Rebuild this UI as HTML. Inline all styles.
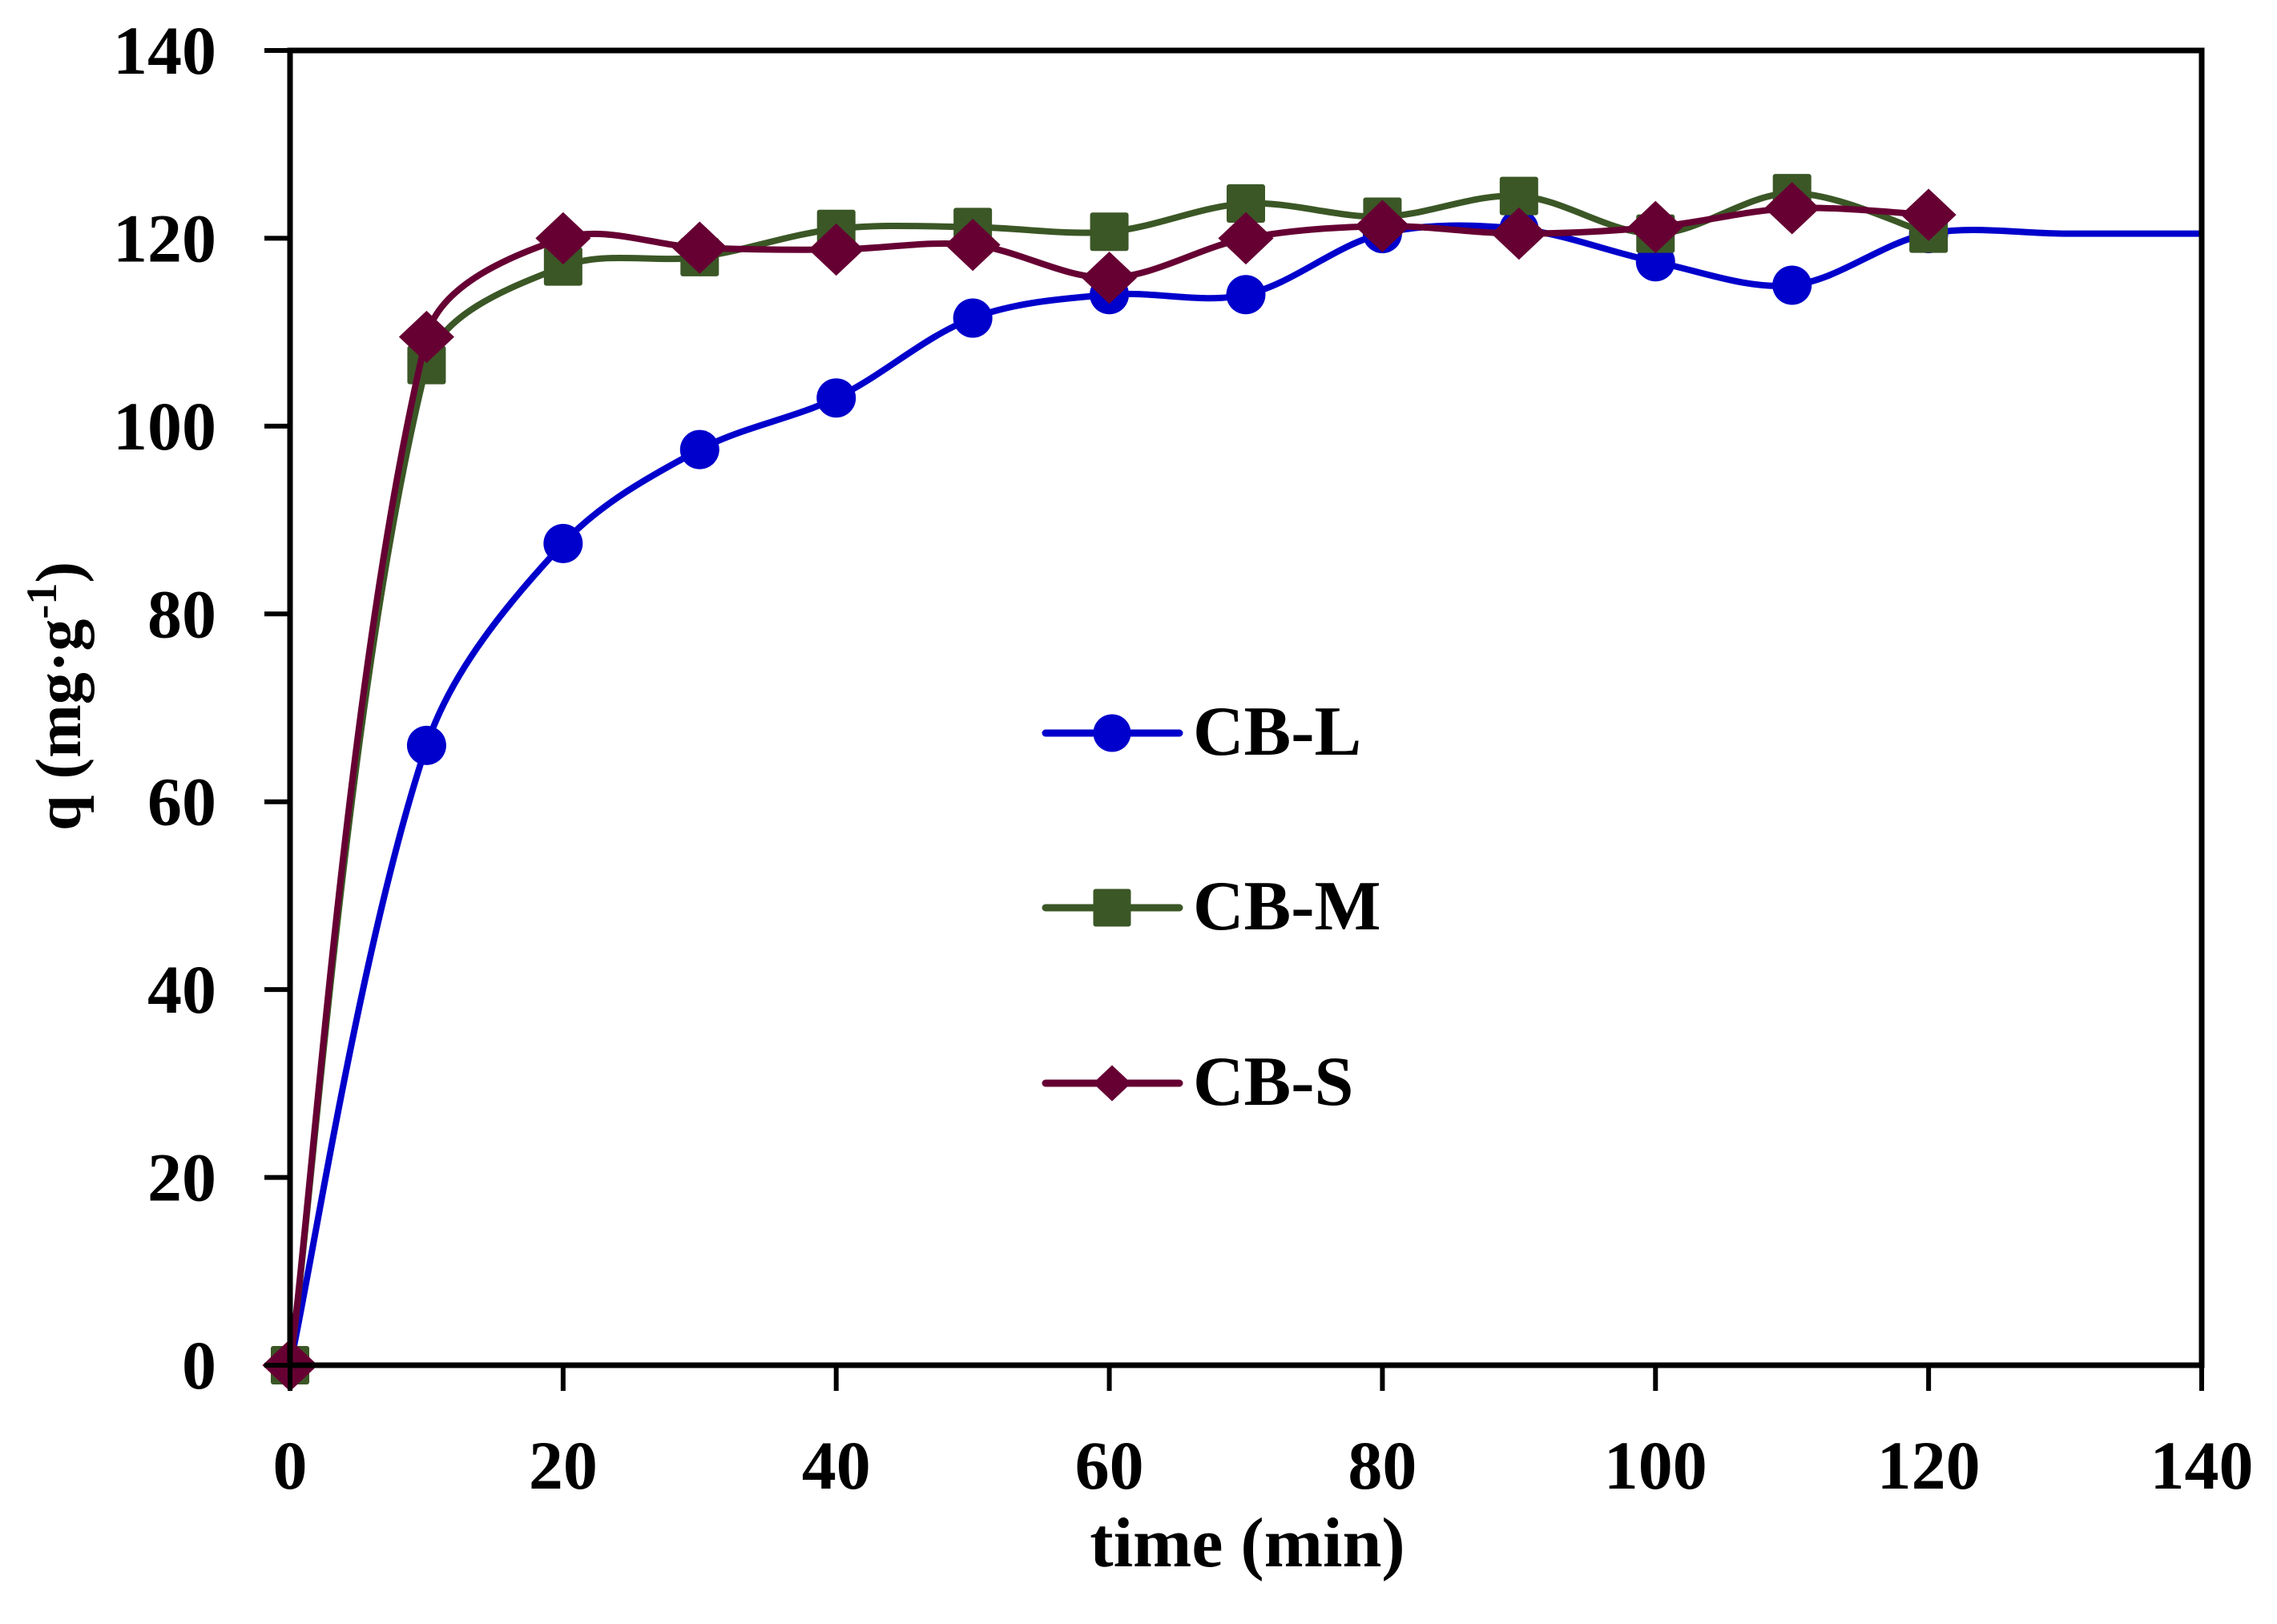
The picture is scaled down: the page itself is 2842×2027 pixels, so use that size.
<!DOCTYPE html>
<html><head><meta charset="utf-8"><style>
html,body{margin:0;padding:0;background:#fff;}
svg{display:block;}
text{font-family:"Liberation Serif",serif;font-weight:bold;fill:#000;}
</style></head><body>
<svg id="chart" width="2842" height="2027" viewBox="0 0 2842 2027" xmlns="http://www.w3.org/2000/svg">
<rect width="2842" height="2027" fill="#fff"/>
<g id="series-layer"></g>
<g id="axes-layer"></g>
<text x="1557" y="1955" font-size="88" text-anchor="middle">time (min)</text>
<text transform="translate(100,869) rotate(-90)" font-size="80" text-anchor="middle">q (mg·g<tspan dy="-30" font-size="54">-1</tspan><tspan dy="30">)</tspan></text>
<g id="legend"></g>
</svg>
<script>
const xTicks = [0,20,40,60,80,100,120,140];
const yTicks = [0,20,40,60,80,100,120,140];
const times = [0,10,20,30,40,50,60,70,80,90,100,110,120];
const tailTimes = [130,140];
const cbL = [0,66,87.5,97.5,103,111.5,114,114,120.5,121,117.5,115,120.5];
const cbLTail = [120.5,120.5];
const cbM = [0,106.5,117,118,121,121.2,120.7,123.7,122.3,124.5,120.5,124.8,120.5];
const cbS = [0,109.5,120,119,118.8,119.3,115.8,120,121.3,120.5,121.2,123.2,122.5];
const seriesNames = ["CB-L","CB-M","CB-S"];

const X0=362, X1=2748, Y0=1704, Y1=63;
const xs = v => X0 + (v-0)/(140-0)*(X1-X0);
const ys = v => Y0 - (v-0)/(140-0)*(Y0-Y1);
const NS="http://www.w3.org/2000/svg";
function mk(tag, attrs, parent){const e=document.createElementNS(NS,tag);for(const k in attrs)e.setAttribute(k,attrs[k]);parent.appendChild(e);return e;}

const axes=document.getElementById('axes-layer');
const frame=mk('rect',{x:X0,y:Y1,width:X1-X0,height:Y0-Y1,fill:'none',stroke:'#000','stroke-width':7},axes);


xTicks.forEach(t=>{
  const l=mk('line',{x1:xs(t),x2:xs(t),y1:Y0,y2:Y0+32,stroke:'#000','stroke-width':6},axes);
  
  
  const tx=mk('text',{x:xs(t),y:1858,'font-size':86,'text-anchor':'middle'},axes);
  tx.textContent=t;
  
  
});
yTicks.forEach(t=>{
  const l=mk('line',{x1:X0-32,x2:X0,y1:ys(t),y2:ys(t),stroke:'#000','stroke-width':6},axes);
  
  
  const tx=mk('text',{x:270,y:ys(t)+29,'font-size':86,'text-anchor':'end'},axes);
  tx.textContent=t;
  
  
});

function dist(a,b){return Math.hypot(a[0]-b[0],a[1]-b[1]);}
function smoothPath(pts){
  let d='M'+pts[0][0]+','+pts[0][1];
  for(let i=0;i<pts.length-1;i++){
    const p0=pts[i-1]||pts[i], p1=pts[i], p2=pts[i+1], p3=pts[i+2]||p2;
    const d01=dist(p0,p1), d12=dist(p1,p2), d23=dist(p2,p3);
    const r1 = (d01+d12)>0 ? d12/(d01+d12) : 0.5;
    const r2 = (d12+d23)>0 ? d12/(d12+d23) : 0.5;
    const f1 = i===0 ? 1/6 : r1/3, f2 = (i+2>=pts.length) ? 1/6 : r2/3;
    const c1=[p1[0]+(p2[0]-p0[0])*f1, p1[1]+(p2[1]-p0[1])*f1];
    const c2=[p2[0]-(p3[0]-p1[0])*f2, p2[1]-(p3[1]-p1[1])*f2];
    d+=' C'+c1[0]+','+c1[1]+' '+c2[0]+','+c2[1]+' '+p2[0]+','+p2[1];
  }
  return d;
}
function marker(type,cx,cy,color,size,parent){
  let e;
  if(type==='circle') e=mk('circle',{cx:cx,cy:cy,r:size/2,fill:color},parent);
  else if(type==='square') e=mk('rect',{x:cx-size/2,y:cy-size/2,width:size,height:size,rx:3,fill:color},parent);
  else {const w=size*0.72,h=size*0.68; e=mk('polygon',{points:`${cx},${cy-h} ${cx+w},${cy} ${cx},${cy+h} ${cx-w},${cy}`,fill:color},parent);}
  return e;
}
const layer=document.getElementById('series-layer');
const defs=[
  {name:'cb-l',vals:cbL,tail:true,color:'#0000cc',type:'circle',size:49},
  {name:'cb-m',vals:cbM,tail:false,color:'#3b5726',type:'square',size:48},
  {name:'cb-s',vals:cbS,tail:false,color:'#660033',type:'diamond',size:48}
];
defs.forEach(s=>{
  const g=mk('g',{},layer);
  
  
  let pts=times.map((t,i)=>[xs(t),ys(s.vals[i])]);
  if(s.tail) pts=pts.concat(tailTimes.map((t,i)=>[xs(t),ys(cbLTail[i])]));
  const p=mk('path',{d:smoothPath(pts),fill:'none',stroke:s.color,'stroke-width':8,'stroke-linejoin':'round'},g);
  
  
  times.forEach((t,i)=>{
    const m=marker(s.type,xs(t),ys(s.vals[i]),s.color,s.size,g);
    
    
  });
});
const lg=document.getElementById('legend');
const ly=[915,1133,1352];
defs.forEach((s,i)=>{
  const g=mk('g',{},lg);
  
  
  const l=mk('line',{x1:1305,x2:1472,y1:ly[i],y2:ly[i],stroke:s.color,'stroke-width':9,'stroke-linecap':'round'},g);
  
  
  const m=marker(s.type,1388,ly[i],s.color,s.type==='diamond'?33:47,g);
  
  
  const t=mk('text',{x:1489,y:ly[i]+27,'font-size':88},g);
  t.textContent=seriesNames[i];
  
  
});
</script>
</body></html>
